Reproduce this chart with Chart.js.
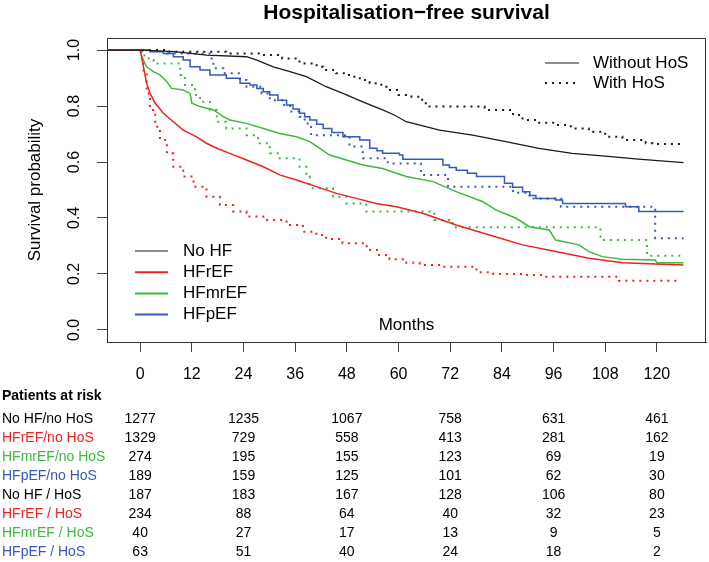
<!DOCTYPE html>
<html>
<head>
<meta charset="utf-8">
<script src="https://cdn.jsdelivr.net/npm/chart.js@4.4.0/dist/chart.umd.min.js"></script>
<style>
  body { margin: 0; background: #fff; }
</style>
</head>
<body>
<canvas id="km" width="709" height="562"></canvas>
<script>
// survival curves: [month, probability]
const noHF_noHoS = [[-7.7,1],[0,1],[8,0.994],[15.4,0.982],[24.7,0.976],[27.1,0.964],[30.9,0.94],[34.8,0.923],[38.6,0.905],[43.2,0.869],[47.1,0.845],[51.7,0.815],[56.3,0.786],[59,0.768],[61.8,0.744],[69.5,0.714],[77.2,0.696],[84.9,0.673],[92.6,0.649],[100.3,0.631],[108,0.621],[115.7,0.61],[126.2,0.598]]
const hfref_noHoS = [[-7.7,1],[0,1],[0.4,0.97],[0.77,0.94],[1.5,0.881],[2.3,0.845],[3.5,0.81],[5.4,0.774],[7.7,0.744],[10,0.714],[13.1,0.69],[15.4,0.667],[17.8,0.649],[20.8,0.631],[24.7,0.607],[28.6,0.583],[32.4,0.554],[36.3,0.536],[40.9,0.512],[45.6,0.488],[50.2,0.47],[54.8,0.452],[59.5,0.44],[65.6,0.417],[73.4,0.375],[81.1,0.339],[88.8,0.304],[96.5,0.28],[104.2,0.256],[112,0.24],[119.6,0.236],[126.2,0.232]]
const hfmref_noHoS = [[-7.7,1],[0,1],[0.4,0.976],[1.5,0.94],[3.1,0.923],[4.6,0.911],[6.2,0.887],[7.3,0.863],[10,0.857],[11.6,0.845],[12,0.81],[13.9,0.798],[17,0.786],[19.3,0.762],[20.8,0.75],[24.7,0.738],[28.6,0.72],[32.4,0.702],[36.3,0.69],[39.4,0.673],[41.7,0.649],[44,0.625],[47.9,0.607],[51.7,0.589],[56.3,0.577],[59.5,0.56],[61.8,0.548],[68,0.53],[73.4,0.494],[79.6,0.458],[82.6,0.429],[87.3,0.399],[90.4,0.369],[95,0.357],[96.5,0.321],[101.9,0.304],[104.2,0.28],[107.3,0.262],[112,0.253],[119.6,0.25],[120,0.24],[126.2,0.24]]
const hfpef_noHoS = [[-7.7,1],[2.3,0.994],[5.4,0.988],[7.7,0.976],[10,0.964],[11.6,0.94],[13.9,0.929],[16.2,0.911],[20,0.899],[23.2,0.881],[25.5,0.875],[27.1,0.863],[28.6,0.851],[30.1,0.839],[32,0.821],[34,0.804],[35.5,0.789],[37,0.774],[38.2,0.762],[39.4,0.75],[41,0.735],[42.5,0.72],[44.5,0.705],[47.1,0.69],[51,0.679],[53.3,0.649],[55,0.64],[56.3,0.631],[60.2,0.625],[61,0.61],[70.3,0.589],[71.8,0.58],[73.4,0.571],[76,0.56],[78.1,0.548],[84.6,0.524],[86.5,0.51],[88.8,0.494],[90.5,0.48],[91.9,0.47],[96.5,0.464],[98.1,0.452],[112.7,0.44],[115.8,0.423],[126.2,0.423]]
const noHF_HoS = [[-7.7,1],[6,0.994],[20,0.988],[28,0.982],[33,0.97],[37,0.952],[41,0.94],[42.5,0.929],[45.5,0.917],[48.5,0.905],[51,0.893],[53.3,0.881],[56,0.869],[58,0.857],[60,0.839],[63,0.833],[65.5,0.81],[67.2,0.798],[80,0.786],[86.6,0.768],[88.8,0.75],[92,0.74],[96.5,0.732],[100,0.72],[104.2,0.708],[108,0.69],[112,0.679],[117.4,0.667],[119,0.664],[126.2,0.664]]
const hfref_HoS = [[-7.7,1],[0,1],[0.4,0.952],[0.8,0.917],[1.5,0.845],[2.3,0.786],[3.5,0.726],[4.6,0.679],[6.2,0.631],[7.7,0.583],[10,0.548],[12.4,0.512],[15.4,0.476],[18.5,0.446],[21.6,0.423],[24.7,0.405],[28.6,0.393],[34,0.375],[37.8,0.351],[40.9,0.339],[43.2,0.325],[47,0.31],[52.6,0.286],[55,0.268],[57.9,0.2525],[61,0.24],[64.9,0.232],[70,0.226],[78.1,0.206],[82,0.2],[88.8,0.196],[94,0.19],[111.2,0.176],[125.5,0.173]]
const hfmref_HoS = [[-7.7,1],[0,1],[1,0.976],[2,0.964],[3.1,0.952],[9.3,0.911],[10.4,0.875],[12.7,0.839],[13.9,0.815],[16.2,0.786],[17.8,0.744],[20,0.72],[24.7,0.696],[27.4,0.685],[27.8,0.667],[30.1,0.631],[32.4,0.613],[37,0.583],[38.6,0.548],[39.4,0.506],[44.8,0.476],[47.9,0.452],[52.5,0.423],[68.3,0.393],[72.6,0.367],[106.9,0.321],[117.7,0.265],[126.2,0.265]]
const hfpef_HoS = [[-7.7,1],[6.2,0.988],[16.2,0.97],[17,0.935],[19.3,0.917],[23.2,0.893],[24.7,0.869],[28.2,0.845],[30.1,0.821],[33.2,0.804],[34.8,0.78],[37,0.762],[38.2,0.738],[39.7,0.696],[48.6,0.655],[51.7,0.613],[57.5,0.595],[65.2,0.554],[71.5,0.512],[86.6,0.49],[90.4,0.47],[97.7,0.44],[119.6,0.328],[126.2,0.328]]

const xTicks = [0,12,24,36,48,60,72,84,96,108,120]
const yTicks = [0,0.2,0.4,0.6,0.8,1.0]

const groupNames = ['No HF','HFrEF','HFmrEF','HFpEF']
const groupColors = ['#1a1a1a','#ee2222','#3fb83f','#3558bb']
const hosNames = ['Without HoS','With HoS']

const riskTimes = [0,24,48,72,96,120]
const riskLabels = ['No HF/no HoS','HFrEF/no HoS','HFmrEF/no HoS','HFpEF/no HoS','No HF / HoS','HFrEF / HoS','HFmrEF / HoS','HFpEF / HoS']
const riskCounts = [
  [1277,1235,1067,758,631,461],
  [1329,729,558,413,281,162],
  [274,195,155,123,69,19],
  [189,159,125,101,62,30],
  [187,183,167,128,106,80],
  [234,88,64,40,32,23],
  [40,27,17,13,9,5],
  [63,51,40,24,18,2]
]

const FONT = '"Liberation Sans", Arial, Helvetica, sans-serif'
const DOT = [2,5]

function ds(data, color, dotted, stepped) {
  return {
    data: data,
    borderColor: color,
    borderWidth: dotted ? 2 : (color == groupColors[0] ? 1.3 : 1.5),
    borderDash: dotted ? DOT : [],
    borderCapStyle: 'butt',
    // KM step: hold the value, then drop at the event time
    stepped: stepped ? 'before' : false,
    pointRadius: 0,
    fill: false,
    tension: 0
  }
}

const extras = {
  id: 'extras',
  afterDraw(chart) {
    const ctx = chart.ctx
    const a = chart.chartArea
    const xs = chart.scales.x
    const ys = chart.scales.y
    const cx = (a.left + a.right) / 2
    ctx.save()
    // box
    ctx.strokeStyle = '#333'
    ctx.lineWidth = 1
    ctx.strokeRect(a.left + 0.5, a.top + 0.5, a.right - a.left - 1, a.bottom - a.top)

    // title
    ctx.fillStyle = '#000'
    ctx.textAlign = 'center'
    ctx.textBaseline = 'middle'
    ctx.font = 'bold 21px ' + FONT
    ctx.fillText('Hospitalisation\u2212free survival', cx, 13)

    // y tick labels, rotated like R
    ctx.font = '16px ' + FONT
    yTicks.forEach(v => {
      ctx.save()
      ctx.translate(75, ys.getPixelForValue(v))
      ctx.rotate(-Math.PI / 2)
      ctx.fillText(v.toFixed(1), 0, 0)
      ctx.restore()
    })

    // x label inside the plot
    ctx.font = '17px ' + FONT
    ctx.fillText('Months', cx, 325)

    // legend: HoS line type
    ctx.textAlign = 'left'
    hosNames.forEach((n, i) => {
      const y = 63 + i * 20
      ctx.beginPath()
      ctx.strokeStyle = '#1a1a1a'
      ctx.lineWidth = i ? 2 : 1.2
      ctx.setLineDash(i ? DOT : [])
      ctx.moveTo(545, y); ctx.lineTo(579, y)
      ctx.stroke()
      ctx.fillText(n, 593, y)
    })
    ctx.setLineDash([])

    // legend: HF groups
    groupNames.forEach((n, i) => {
      const y = 251 + i * 21.2
      ctx.beginPath()
      ctx.strokeStyle = groupColors[i]
      ctx.lineWidth = i ? 2 : 1.2
      ctx.moveTo(135, y); ctx.lineTo(168, y)
      ctx.stroke()
      ctx.fillStyle = '#000'
      ctx.fillText(n, 183, y)
    })

    // patients at risk table
    ctx.font = 'bold 14px ' + FONT
    ctx.fillText('Patients at risk', 2, 396)
    ctx.font = '14px ' + FONT
    riskLabels.forEach((lab, r) => {
      const y = 419.5 + r * 19
      ctx.fillStyle = r % 4 == 0 ? '#000' : groupColors[r % 4]
      ctx.textAlign = 'left'
      ctx.fillText(lab, 2, y)
      ctx.fillStyle = '#000'
      ctx.textAlign = 'center'
      riskCounts[r].forEach((n, c) => {
        ctx.fillText(String(n), xs.getPixelForValue(riskTimes[c]), y)
      })
    })
    ctx.restore()
  }
}

new Chart(document.getElementById('km'), {
  type: 'line',
  data: {
    datasets: [
      ds(noHF_noHoS, groupColors[0], false, false),
      ds(hfref_noHoS, groupColors[1], false, false),
      ds(hfmref_noHoS, groupColors[2], false, false),
      ds(hfpef_noHoS, groupColors[3], false, true),
      ds(noHF_HoS, groupColors[0], true, true),
      ds(hfref_HoS, groupColors[1], true, true),
      ds(hfmref_HoS, groupColors[2], true, true),
      ds(hfpef_HoS, groupColors[3], true, true)
    ]
  },
  options: {
    responsive: false,
    animation: false,
    layout: { padding: { left: 0, top: 38, right: 3, bottom: 0 } },
    plugins: { legend: { display: false }, title: { display: false }, tooltip: { enabled: false } },
    scales: {
      x: {
        type: 'linear',
        min: -7.7,
        max: 131.4,
        afterBuildTicks: s => { s.ticks = xTicks.map(v => ({ value: v })) },
        afterFit: s => { s.height = 220 },
        grid: { drawOnChartArea: false, drawTicks: true, tickLength: 10, color: '#444' },
        border: { display: true, color: '#333' },
        ticks: { padding: 13, color: '#000', font: { family: FONT, size: 16 }, maxRotation: 0 }
      },
      y: {
        min: -0.043,
        max: 1.043,
        afterBuildTicks: s => { s.ticks = yTicks.map(v => ({ value: v })) },
        afterFit: s => { s.width = 107 },
        grid: { drawOnChartArea: false, drawTicks: true, tickLength: 10, color: '#444' },
        border: { display: true, color: '#333' },
        ticks: { display: false },
        title: { display: true, text: 'Survival probability', color: '#000', font: { family: FONT, size: 17 }, padding: { top: 25, bottom: 0 } }
      }
    }
  },
  plugins: [extras]
})
</script>
</body>
</html>
